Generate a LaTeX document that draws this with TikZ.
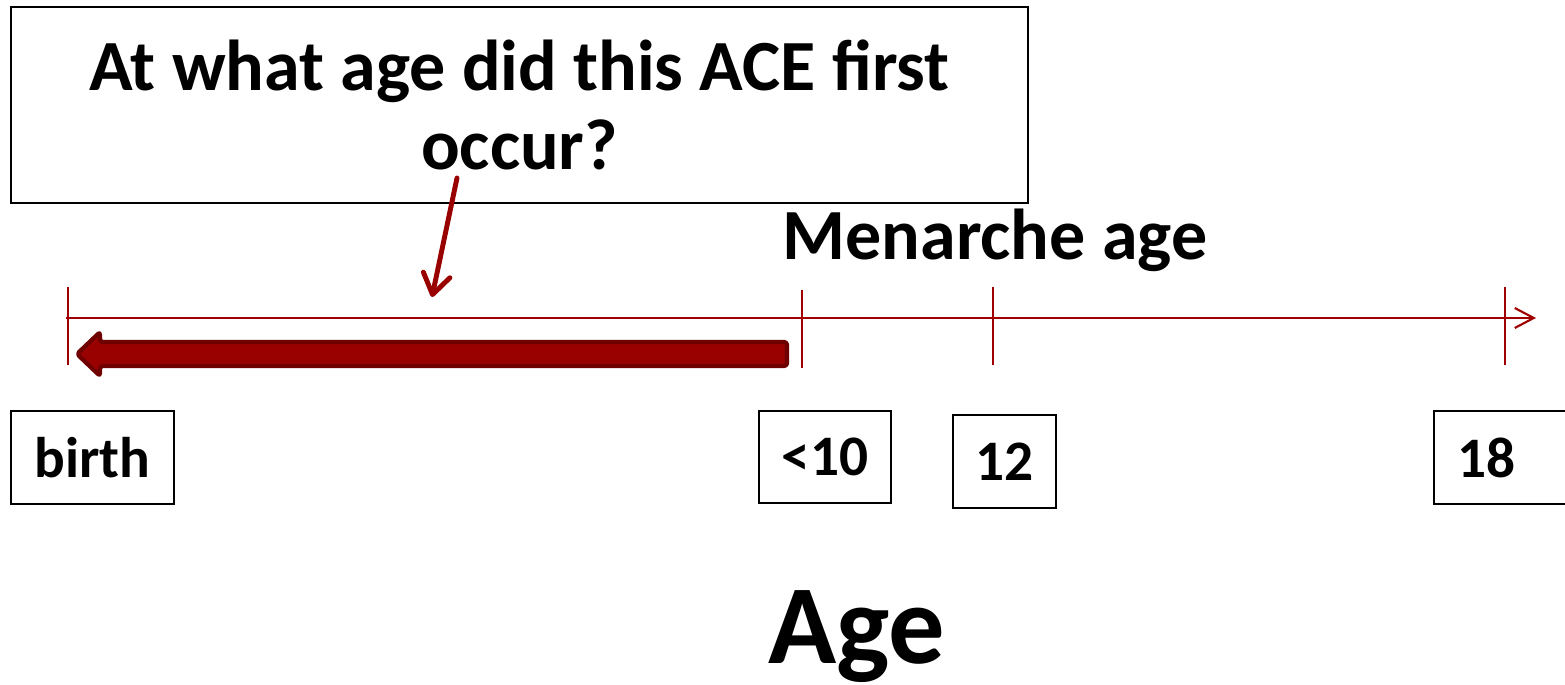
\documentclass[tikz,border=0pt]{standalone}
\usepackage{fontspec}
\setmainfont{Carlito}
\usetikzlibrary{arrows.meta}
\usetikzlibrary{calc}
\definecolor{axisred}{RGB}{160,0,0}
\definecolor{arrowred}{RGB}{153,0,0}
\definecolor{arrowdark}{RGB}{110,0,0}

\begin{document}
\begin{tikzpicture}[>=latex,
		labelbox/.style={draw=black, line width=0.6pt, inner sep=0pt, font=\fontsize{16.3}{18}\selectfont\bfseries},
		bigtext/.style={font=\fontsize{20.5}{22.7}\selectfont\bfseries},
		tick/.style={draw=axisred, line width=0.6pt}]
			\useasboundingbox (0,0) rectangle (15.65,6.84);
			
			% Draw the question box
			\node[draw=black, line width=0.6pt, bigtext, align=center, minimum width=10.17cm, minimum height=1.96cm, inner sep=0pt] (question) at (5.195,5.79) {At what age did this ACE first\\occur?};
			\node[bigtext, anchor=base] (menarche) at (9.95,4.24) {Menarche age};
			
			% Draw the axis
			\coordinate (start) at (0.66,3.66);
			\coordinate (end) at (15.36,3.66);
			\draw[axisred, line width=0.6pt, -{Straight Barb[length=0.19cm,width=0.2cm]}] (start) -- (end);
			
			% Draw the ticks
			\foreach \x/\name in {0.68/birth, 9.93/twelve, 15.05/eighteen}
			{
				\coordinate (t\name) at (\x,3.66);
				\draw[tick] ($(t\name)+(0,0.31)$) -- ($(t\name)+(0,-0.47)$);
			}
			\coordinate (tten) at (8.02,3.66);
			\draw[tick] ($(tten)+(0,0.28)$) -- ($(tten)+(0,-0.5)$);
			
			% Draw the thick arrow back to birth
			\coordinate (tail) at (7.87,3.30);
			\coordinate (tip) at (0.77,3.30);
			\draw[arrowdark, fill=arrowred, line width=1.2pt, line join=round, rounded corners=0.8pt]
				($(tail)+(0,0.12)$) -- ($(tip)+(0.23,0.12)$) -- ($(tip)+(0.23,0.22)$) -- (tip)
				-- ($(tip)+(0.23,-0.22)$) -- ($(tip)+(0.23,-0.12)$) -- ($(tail)+(0,-0.12)$) -- cycle;
			
			% Draw the arrow from the question
			\coordinate (qfoot) at (4.57,5.06);
			\coordinate (qpoint) at (4.32,3.87);
			\draw[arrowred, line width=1.4pt, line cap=round, -{Straight Barb[length=0.2cm,width=0.27cm,round]}] (qfoot) -- (qpoint);
			
			% Draw the age boxes
			\node[labelbox, minimum width=1.63cm, minimum height=0.93cm] (birth) at (0.925,2.265) {birth};
			\node[labelbox, minimum width=1.32cm, minimum height=0.92cm] (ten) at (8.25,2.27) {<10};
			\node[labelbox, minimum width=1.03cm, minimum height=0.93cm] (twelve) at (10.045,2.225) {12};
			\node[labelbox, anchor=west, text width=1.2cm, inner xsep=0.23cm, align=left, minimum height=0.93cm] (eighteen) at (14.33,2.265) {18};
			
			% Draw the axis title
			\node[font=\fontsize{32}{34}\selectfont\bfseries, anchor=base] (age) at (8.57,0.21) {Age};
			
		\end{tikzpicture}
\end{document}
